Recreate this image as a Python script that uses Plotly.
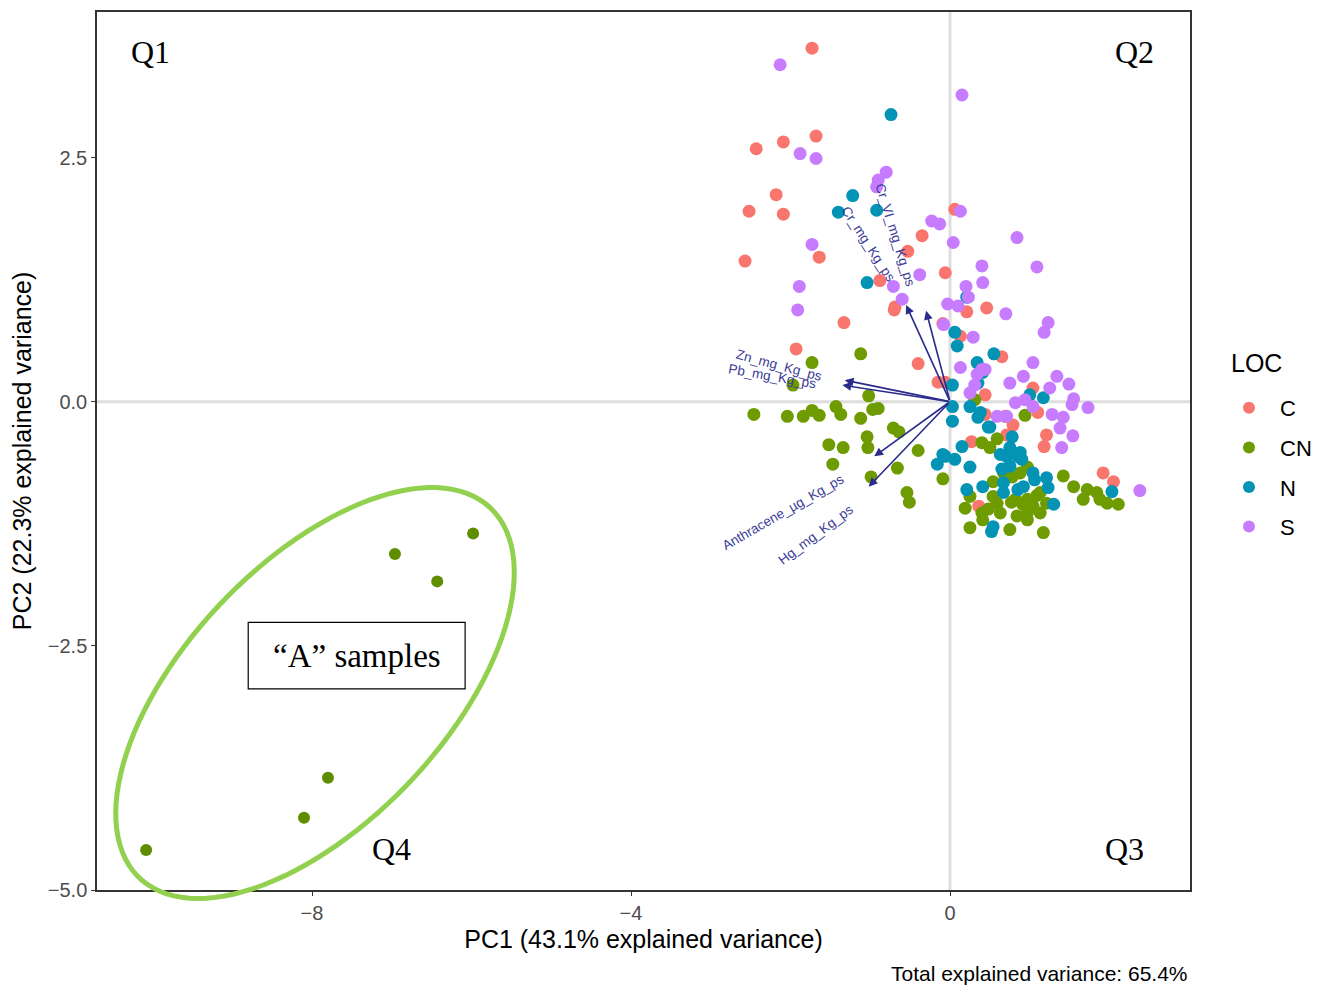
import numpy as np
import plotly.graph_objects as go

# ---------------- data ----------------
C_x = [-1.73,-2.43,-2.09,-1.68,-2.18,-2.52,-2.09,-2.57,-1.64,-1.33,-1.93,-0.53,-0.35,-0.88,-0.69,-0.70,
       -0.40,-0.15,-0.06,-0.06,0.06,0.46,0.21,-0.09,0.13,0.65,1.04,0.44,1.10,0.79,0.71,0.44,0.27,0.36,
       1.21,1.18,1.92,2.05,0.69]
C_y = [3.62,2.59,2.66,2.72,2.12,1.95,1.92,1.44,1.48,0.81,0.54,1.54,1.70,1.24,0.97,0.94,
       0.39,0.20,0.20,1.32,1.97,0.96,0.92,0.80,0.67,0.46,0.14,0.07,-0.11,-0.24,-0.34,-0.13,-0.41,-1.07,
       -0.34,-0.46,-0.73,-0.82,-0.15]

CN_x = [-1.97,-1.73,-1.12,-1.02,-2.46,-2.04,-1.84,-1.73,-1.64,-1.43,-1.37,-1.12,-0.97,-0.90,-0.71,-0.64,
        -1.04,-1.03,-1.52,-1.34,-1.47,-0.99,-0.66,-0.40,-0.54,-0.51,-0.09,0.94,0.31,0.40,0.50,0.59,
        0.25,0.19,0.25,0.41,0.48,0.59,0.63,0.67,0.54,0.75,0.82,0.88,0.97,0.97,0.97,1.04,1.13,1.21,1.13,
        1.17,0.97,0.84,1.42,1.55,1.72,1.67,1.88,1.97,2.11,1.84,0.40,0.54,0.91,0.77,1.09,0.78]
CN_y = [0.17,0.40,0.49,0.06,-0.13,-0.15,-0.15,-0.09,-0.14,-0.05,-0.13,-0.17,-0.08,-0.07,-0.27,-0.31,
        -0.36,-0.47,-0.44,-0.47,-0.64,-0.77,-0.68,-0.50,-0.93,-1.03,-0.79,-0.14,0.02,-0.42,-0.47,-0.38,
        -1.29,-1.09,-0.97,-1.21,-1.10,-1.04,-1.14,-0.73,-0.82,-1.31,-1.00,-0.73,-0.67,-1.00,-1.14,-1.07,-1.14,-1.04,-0.93,
        -1.34,-1.21,-1.17,-0.76,-0.87,-0.90,-1.00,-1.00,-1.04,-1.05,-0.93,-1.14,-0.97,-1.05,-1.03,-0.96,-0.77]

A_x = [-5.98,-6.96,-6.43,-7.80,-8.10,-10.08]
A_y = [-1.35,-1.56,-1.84,-3.85,-4.26,-4.59]

N_x = [-0.74,-1.22,-1.40,-0.92,-1.04,0.06,0.09,0.55,0.34,0.03,0.41,0.35,1.00,1.17,0.21,0.03,0.03,0.25,
       0.35,0.50,0.15,-0.09,-0.16,-0.06,0.06,0.25,0.71,0.75,0.85,0.90,0.65,0.67,0.67,0.41,0.21,1.04,1.21,
       1.23,1.30,0.54,0.52,0.92,0.75,0.88,2.03,0.38,0.48,0.78,0.63,0.85,1.06]
N_y = [2.94,2.11,1.94,1.96,1.22,0.71,0.57,0.49,0.40,0.17,0.30,0.19,0.07,0.04,1.07,-0.05,-0.20,-0.05,
       -0.16,-0.26,-0.46,-0.54,-0.64,-0.56,-0.59,-0.67,-0.56,-0.66,-0.56,-0.59,-0.69,-0.83,-0.93,-0.87,-0.90,-0.73,-0.78,
       -0.88,-1.05,-1.28,-1.33,-0.87,-0.47,-0.52,-0.92,-0.11,-0.26,-0.36,-0.54,-0.90,-0.80]

S_x = [-2.13,0.15,-1.88,-1.68,-0.80,-0.90,-0.92,-1.73,-1.89,-1.91,-0.38,-0.71,-0.60,-0.23,-0.13,0.04,0.13,
       -0.08,0.40,0.41,0.20,0.23,-0.03,0.10,0.13,0.34,0.29,0.44,0.84,1.09,0.70,1.23,1.18,0.75,0.92,1.04,
       1.34,1.49,1.25,0.25,0.31,0.82,0.94,1.04,1.55,1.53,1.73,1.28,1.42,1.38,1.54,1.40,0.59,0.71,2.38,0.40]
S_y = [3.45,3.14,2.54,2.49,2.35,2.27,2.20,1.61,1.18,0.94,1.30,1.18,1.05,1.85,1.82,1.63,1.95,
       0.79,1.39,1.22,1.18,1.07,1.00,0.98,0.35,0.28,0.66,0.33,1.68,1.38,0.90,0.81,0.71,0.19,0.26,0.40,
       0.26,0.18,0.14,0.09,0.17,-0.01,0.02,-0.05,0.03,-0.03,-0.06,-0.13,-0.16,-0.27,-0.35,-0.47,-0.15,-0.15,-0.91,0.33]

load_names = ["Cr_mg_Kg_ps", "Cr_VI_mg_Kg_ps", "Zn_mg_Kg_ps", "Pb_mg_Kg_ps",
              "Anthracene_µg_Kg_ps", "Hg_mg_Kg_ps"]
load_x = [-0.55, -0.30, -1.32, -1.35, -0.95, -1.02]
load_y = [0.99, 0.93, 0.22, 0.17, -0.56, -0.87]
lab_x = [-1.02, -0.69, -2.14, -2.22, -2.10, -1.68]
lab_y = [1.61, 1.71, 0.37, 0.26, -1.13, -1.36]
lab_ang = [57, 73, 15, 10, -30, -37]

# ---------------- geometry (screen px of the plot area; page body has 8px margin) ----------------
L, R, T, B = 97, 1190, 12, 890
BODY = 8
FW, FH = 1322 - BODY, 985 - BODY

colors = {"C": "#F8766D", "CN": "#6E9C00", "N": "#0393B5", "S": "#C77CFF"}
fig = go.Figure()

def add(name, xs, ys):
    fig.add_trace(go.Scatter(x=xs, y=ys, mode="markers", name=name, legendgroup=name,
                             marker=dict(size=13, color=colors[name], line=dict(width=0))))

add("C", C_x, C_y)
add("CN", CN_x, CN_y)
fig.add_trace(go.Scatter(x=A_x, y=A_y, mode="markers", showlegend=False, legendgroup="CN",
                         marker=dict(size=12, color="#5E8E00", line=dict(width=0))))
add("N", N_x, N_y)
add("S", S_x, S_y)

# reference lines
fig.add_shape(type="line", x0=0, x1=0, y0=0, y1=1, xref="x", yref="paper",
              line=dict(color="#DEDEDE", width=3), layer="below")
fig.add_shape(type="line", x0=0, x1=1, y0=0, y1=0, xref="paper", yref="y",
              line=dict(color="#DEDEDE", width=3), layer="below")

# loading arrows
arrow_col = "#2B2B8C"
for nm, lx, ly, tx, ty, ang in zip(load_names, load_x, load_y, lab_x, lab_y, lab_ang):
    fig.add_annotation(x=lx, y=ly, ax=0, ay=0, xref="x", yref="y", axref="x", ayref="y",
                       text="", showarrow=True, arrowhead=2, arrowsize=1.1, arrowwidth=1.6,
                       arrowcolor=arrow_col)
    fig.add_annotation(x=tx, y=ty, xref="x", yref="y", text=nm, showarrow=False,
                       textangle=ang, font=dict(family="Liberation Sans", size=13.5, color="#3B3B98"))

# quadrant labels
serif = "Liberation Serif"
for t, qx, qy in [("Q1", -10.03, 3.58), ("Q2", 2.31, 3.58), ("Q3", 2.19, -4.58), ("Q4", -7.0, -4.58)]:
    fig.add_annotation(x=qx, y=qy, xref="x", yref="y", text=t, showarrow=False,
                       font=dict(family=serif, size=32, color="black"))

# "A" samples box
fig.add_shape(type="rect", x0=-8.80, x1=-6.08, y0=-2.94, y1=-2.26, xref="x", yref="y",
              line=dict(color="black", width=1.2), fillcolor="white", layer="above")
fig.add_annotation(x=-7.44, y=-2.60, xref="x", yref="y", text="\u201cA\u201d samples", showarrow=False,
                   font=dict(family=serif, size=33, color="black"))

# ellipse (paper coords, computed from pixel geometry of the plot area)
cx, cy, a, b, th = 315, 693, 255, 130, np.deg2rad(46.5)
t = np.linspace(0, 2 * np.pi, 120)
px = cx + a * np.cos(t) * np.cos(th) - b * np.sin(t) * np.sin(th)
py = cy - (a * np.cos(t) * np.sin(th) + b * np.sin(t) * np.cos(th))
qx = (px - L) / (R - L)
qy = (B - py) / (B - T)
path = "M " + " L ".join(f"{u:.5f},{v:.5f}" for u, v in zip(qx, qy)) + " Z"
fig.add_shape(type="path", path=path, xref="paper", yref="paper",
              line=dict(color="#92D050", width=5))

fig.add_annotation(x=1, y=(B - 973) / (B - T), xref="paper", yref="paper", xanchor="right",
                   yanchor="middle", text="Total explained variance: 65.4%", showarrow=False,
                   font=dict(family="Liberation Sans", size=21, color="black"))

# legend title
fig.add_annotation(x=(1229 - L) / (R - L), y=(B - 363) / (B - T), xref="paper", yref="paper",
                   xanchor="left", yanchor="middle", text="LOC", showarrow=False,
                   font=dict(family="Liberation Sans", size=25, color="black"))

axis_common = dict(showgrid=False, zeroline=False, showline=True, mirror=True,
                   linecolor="#333333", linewidth=1.5, ticks="outside", ticklen=4,
                   tickcolor="#333333", tickwidth=1.2,
                   tickfont=dict(family="Liberation Sans", size=20, color="#4D4D4D"))
fig.update_xaxes(range=[-10.696, 3.009], tickvals=[-8, -4, 0], ticktext=["\u22128", "\u22124", "0"],
                 title=dict(text="PC1 (43.1% explained variance)", standoff=8,
                            font=dict(family="Liberation Sans", size=25, color="black")),
                 automargin=False, **axis_common)
fig.update_yaxes(range=[-5.0, 3.99], tickvals=[2.5, 0, -2.5, -5],
                 ticktext=["2.5", "0.0", "\u22122.5", "\u22125.0"],
                 title=dict(text="PC2 (22.3% explained variance)", standoff=10,
                            font=dict(family="Liberation Sans", size=25, color="black")),
                 automargin=False, **axis_common)

fig.update_layout(
    width=FW, height=FH,
    margin=dict(l=L - BODY, r=FW - (R - BODY), t=T - BODY, b=FH - (B - BODY)),
    paper_bgcolor="white", plot_bgcolor="white",
    showlegend=True,
    legend=dict(x=(1218 - L) / (R - L), y=(B - 387) / (B - T), xanchor="left", yanchor="top",
                font=dict(family="Liberation Sans", size=22, color="black"),
                tracegroupgap=8, itemsizing="constant", itemwidth=52),
)

fig.write_html("out.html")
